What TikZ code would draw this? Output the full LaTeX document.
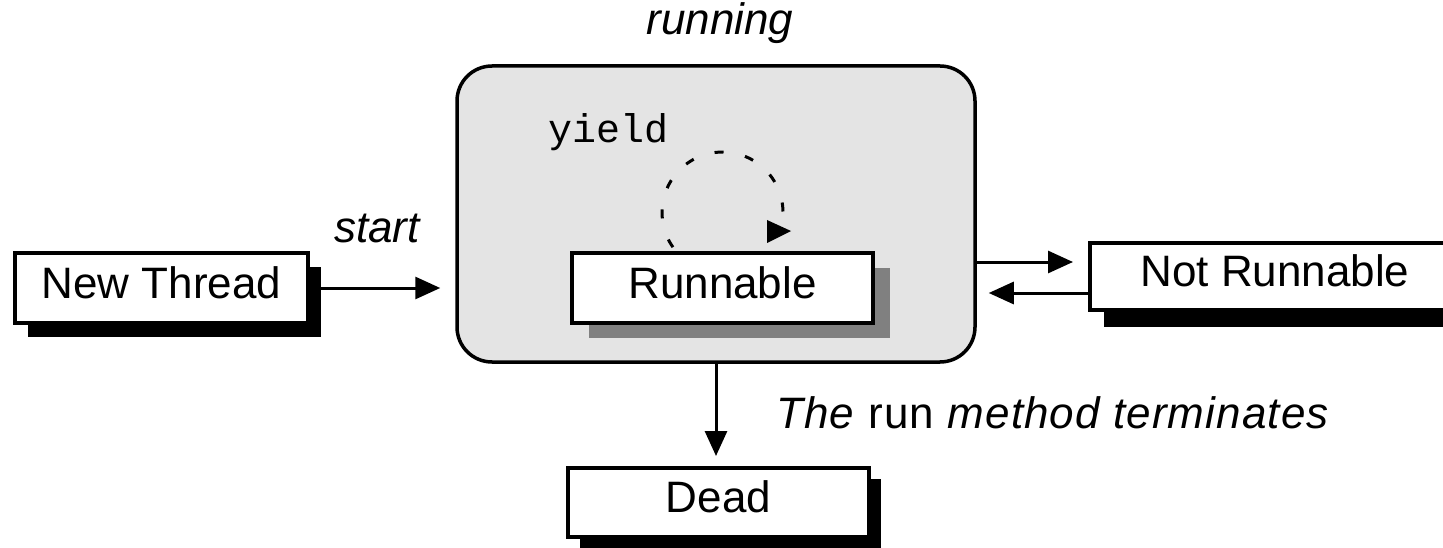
\documentclass[tikz,border=0pt]{standalone}
\usepackage{fontspec}
\setmainfont{Liberation Sans}
\setmonofont{Liberation Mono}
\usetikzlibrary{arrows.meta,shadows,calc}
\definecolor{panelgray}{HTML}{E4E4E4}
\definecolor{shadowgray}{HTML}{808080}
\begin{document}
\begin{tikzpicture}[x=1pt,y=1pt,
  statebox/.style={draw=black, line width=4pt, fill=white, inner sep=0pt,
    text height=31.5pt, text depth=11pt, font=\fontsize{44}{50}\selectfont},
  lbl/.style={inner sep=0pt, font=\fontsize{44}{50}\selectfont},
  conn/.style={line width=3pt, -{Triangle[length=25pt,width=22pt]}}]
\useasboundingbox (0,0) rectangle (1443,-548);
\clip (0,0) rectangle (1443,-548);
\fill[white] (0,0) rectangle (1443,-548);

% running panel
\node[draw=black, line width=3.5pt, fill=panelgray, rounded corners=35pt,
      minimum width=518pt, minimum height=296pt, inner sep=0pt] (rb) at (716,-214) {};
\node[lbl, font=\itshape\fontsize{44}{50}\selectfont, anchor=base] (running) at (720,-35) {running};
\node[lbl, font=\ttfamily\fontsize{40}{46}\selectfont, anchor=base] (yield) at (609,-143) {yield};

% yield loop
\draw[line width=3pt, dash pattern=on 9pt off 22pt]
  (722.5,-212.5) ++(215:60.5) arc[start angle=215, end angle=-15, radius=60.5];
\fill (767,-220) -- (791,-231) -- (767,-243) -- cycle;

% states
\node[statebox, minimum width=301pt, minimum height=70pt,
      drop shadow={shadow xshift=17pt, shadow yshift=-15pt, fill=shadowgray, opacity=1}]
      (runnable) at (722.5,-288) {Runnable};
\node[statebox, minimum width=293pt, minimum height=70pt,
      drop shadow={shadow xshift=13pt, shadow yshift=-14pt, fill=black, opacity=1}]
      (nt) at (161.5,-288) {New Thread};
\node[statebox, minimum width=370pt, minimum height=67pt,
      drop shadow={shadow xshift=14pt, shadow yshift=-17pt, fill=black, opacity=1}]
      (nr) at (1275,-276.5) {Not Runnable};
\node[statebox, minimum width=301pt, minimum height=69pt,
      drop shadow={shadow xshift=12pt, shadow yshift=-11pt, fill=black, opacity=1}]
      (dead) at (718.5,-502.5) {Dead};

% labels
\node[lbl, font=\itshape\fontsize{44}{50}\selectfont, anchor=base] (start) at (377,-243) {start};
\node[lbl, anchor=base west, font=\fontsize{44}{50}\selectfont\addfontfeatures{LetterSpace=2.5}]
      (term) at (776,-428) {\textit{The} run \textit{method terminates}};

% connectors
\draw[conn, shorten >=15pt] (nt.east) -- (rb.west |- nt.east);
\draw[conn, shorten >=15pt] ($(rb.east |- nr.west)+(0,14.5)$) -- ($(nr.west)+(0,14.5)$);
\draw[conn, shorten >=12pt] ($(nr.west)+(0,-16.5)$) -- ($(rb.east |- nr.west)+(0,-16.5)$);
\draw[conn, shorten >=10pt] (rb.south) -- (rb.south |- dead.north);
\end{tikzpicture}
\end{document}
